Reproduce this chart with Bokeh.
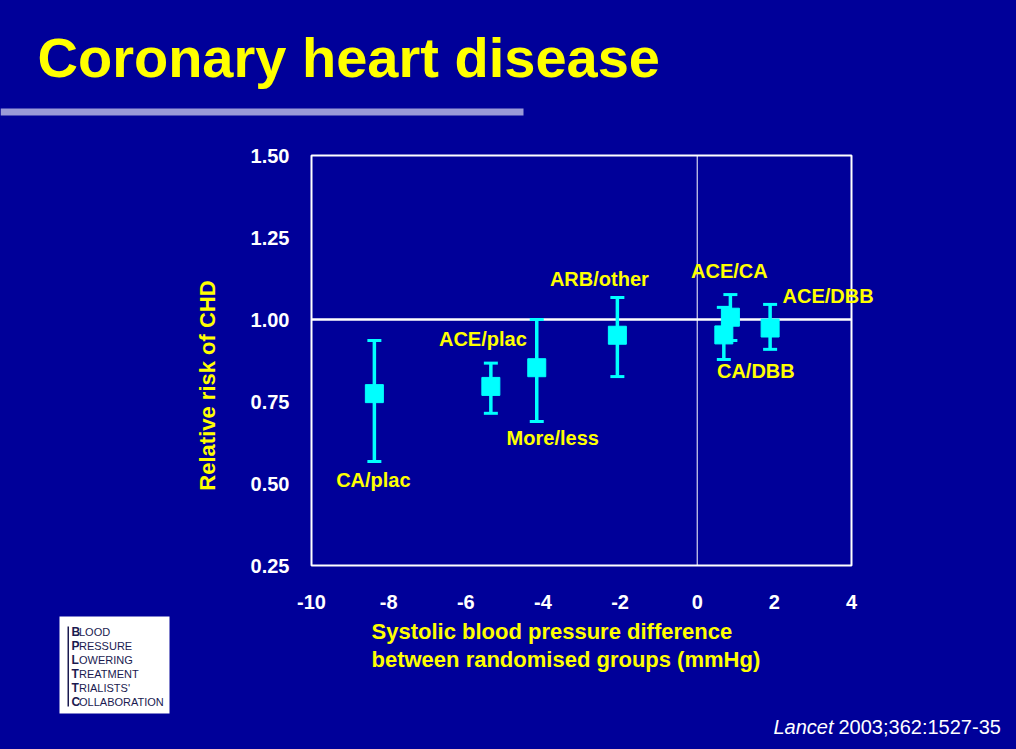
import math
from bokeh.plotting import figure
from bokeh.models import (Label, BoxAnnotation, Range1d, FixedTicker,
                          Whisker, ColumnDataSource, TeeHead, NumeralTickFormatter)
from bokeh.embed import file_html
from bokeh.resources import INLINE

# ---------------- data ----------------
trials = ["CA/plac", "ACE/plac", "More/less", "ARB/other", "ACE/CA", "CA/DBB", "ACE/DBB"]
bp_diff = [-8.37, -5.35, -4.16, -2.07, 0.86, 0.69, 1.89]
rel_risk = [0.774, 0.796, 0.853, 0.952, 1.007, 0.953, 0.974]
rr_lower = [0.567, 0.714, 0.689, 0.826, 0.936, 0.878, 0.909]
rr_upper = [0.936, 0.867, 1.000, 1.067, 1.076, 1.037, 1.046]
x_ticks = [-10, -8, -6, -4, -2, 0, 2, 4]
y_ticks = [0.25, 0.50, 0.75, 1.00, 1.25, 1.50]
x_limits = [-10, 4]
y_limits = [0.25, 1.50]
ref_risk = 1.0
ref_diff = 0

title_text = "Coronary heart disease"
x_label_lines = ["Systolic blood pressure difference", "between randomised groups (mmHg)"]
y_label_text = "Relative risk of CHD"
logo_rows = [("B", "LOOD"), ("P", "RESSURE"), ("L", "OWERING"),
             ("T", "REATMENT"), ("T", "RIALISTS'"), ("C", "OLLABORATION")]
cite_journal = "Lancet"
cite_rest = "2003;362:1527-35"

# label offsets (pixels) relative to each point
label_dx = [-1, -8, 16, -18, -1, 32, 58]
label_dy = [-86, 47, -70, 56, 46, -36, 32]

# ---------------- style / layout ----------------
FONT = "Liberation Sans"
BG = "#000099"
YELLOW = "#FFFF00"
CYAN = "#00FFFF"
NAVY = "#1a1a50"

W, H = 1016, 749
# chart box in canvas pixels
PX_L, PX_R, PX_T, PX_B = 311, 851, 155, 565
SX = (x_limits[1] - x_limits[0]) / (PX_R - PX_L)
SY = (y_limits[1] - y_limits[0]) / (PX_B - PX_T)
x_start = x_limits[0] - PX_L * SX
x_end = x_limits[1] + (W - PX_R) * SX
y_end = y_limits[1] + PX_T * SY
y_start = y_limits[0] - (H - PX_B) * SY


def dx(px):  # canvas pixel -> data x
    return x_limits[0] + (px - PX_L) * SX


def dy(py):  # canvas pixel -> data y
    return y_limits[1] - (py - PX_T) * SY


p = figure(width=W, height=H, output_backend="svg", toolbar_location=None,
           x_range=Range1d(x_start, x_end), y_range=Range1d(y_start, y_end),
           min_border=0, min_border_left=0, min_border_right=0,
           min_border_top=0, min_border_bottom=0,
           background_fill_color=BG, border_fill_color=BG,
           outline_line_color=None)
p.grid.visible = False

for ax in (p.xaxis, p.yaxis):
    ax.axis_line_color = None
    ax.major_tick_line_color = None
    ax.minor_tick_line_color = None
    ax.major_tick_out = 0
    ax.major_tick_in = 0
    ax.major_label_text_color = "white"
    ax.major_label_text_font = FONT
    ax.major_label_text_font_style = "bold"
    ax.major_label_text_font_size = "20px"

p.xaxis.fixed_location = y_limits[0]
p.xaxis.ticker = FixedTicker(ticks=x_ticks)
p.xaxis.major_label_overrides = {t: str(t) for t in x_ticks}
p.xaxis.major_label_standoff = 29
p.yaxis.fixed_location = x_limits[0]
p.yaxis.ticker = FixedTicker(ticks=y_ticks)
p.yaxis.formatter = NumeralTickFormatter(format="0.00")
p.yaxis.major_label_standoff = 22

# chart box and reference lines
p.quad(left=[x_limits[0]], right=[x_limits[1]], bottom=[y_limits[0]], top=[y_limits[1]],
       fill_color=None, line_color="white", line_width=2)
p.segment(x0=[x_limits[0]], x1=[x_limits[1]], y0=[ref_risk], y1=[ref_risk],
          line_color="white", line_width=2.5)
p.segment(x0=[ref_diff], x1=[ref_diff], y0=[y_limits[0]], y1=[y_limits[1]],
          line_color="white", line_width=1)

src = ColumnDataSource(dict(x=bp_diff, rr=rel_risk, lower=rr_lower, upper=rr_upper))
p.add_layout(Whisker(base="x", lower="lower", upper="upper", source=src, dimension="height",
                     line_color=CYAN, line_width=3.5, level="glyph",
                     upper_head=TeeHead(size=14, line_color=CYAN, line_width=3),
                     lower_head=TeeHead(size=14, line_color=CYAN, line_width=3)))
p.scatter(x="x", y="rr", source=src, marker="square", size=18,
          fill_color=CYAN, line_color=CYAN, level="overlay")

for name, x, y, ox, oy in zip(trials, bp_diff, rel_risk, label_dx, label_dy):
    p.add_layout(Label(x=x, y=y, x_offset=ox, y_offset=oy, text=name,
                       text_align="center", text_baseline="middle",
                       text_color=YELLOW, text_font=FONT, text_font_style="bold",
                       text_font_size="20px"))


def text_at(px, py, text, size, color, style="normal", align="left", angle=0.0):
    p.add_layout(Label(x=dx(px), y=dy(py), text=text, angle=angle,
                       text_align=align, text_baseline="middle", text_color=color,
                       text_font=FONT, text_font_style=style, text_font_size=size))


# title & rule
text_at(37, 57, title_text, "56px", YELLOW, "bold")
p.add_layout(BoxAnnotation(left=dx(0), right=dx(523), top=dy(108), bottom=dy(115),
                           fill_color="#9a9ad8", fill_alpha=1, line_color=None))

# axis titles
text_at(207, 385, y_label_text, "22px", YELLOW, "bold", align="center", angle=math.pi / 2)
for i, line in enumerate(x_label_lines):
    text_at(371, 631 + 28 * i, line, "22px", YELLOW, "bold")

# logo
p.add_layout(BoxAnnotation(left=dx(59), right=dx(169), top=dy(616), bottom=dy(713),
                           fill_color="white", fill_alpha=1, line_color=None))
p.add_layout(BoxAnnotation(left=dx(67), right=dx(68.5), top=dy(626), bottom=dy(706),
                           fill_color=NAVY, fill_alpha=1, line_color=None))
for i, (first, rest) in enumerate(logo_rows):
    cy = 631 + 14 * i
    text_at(71, cy, first, "12px", NAVY, "bold")
    text_at(78.5, cy + 0.5, rest, "11px", NAVY)

# citation
text_at(773, 726, cite_journal, "20px", "white", "italic")
text_at(838, 726, cite_rest, "20px", "white")

html = file_html(p, INLINE, title="Coronary heart disease")
html = html.replace("</head>",
                    "<style>html,body{margin:0;padding:0;background-color:#000099;overflow:hidden;}</style></head>", 1)
open("out.html", "w").write(html)
